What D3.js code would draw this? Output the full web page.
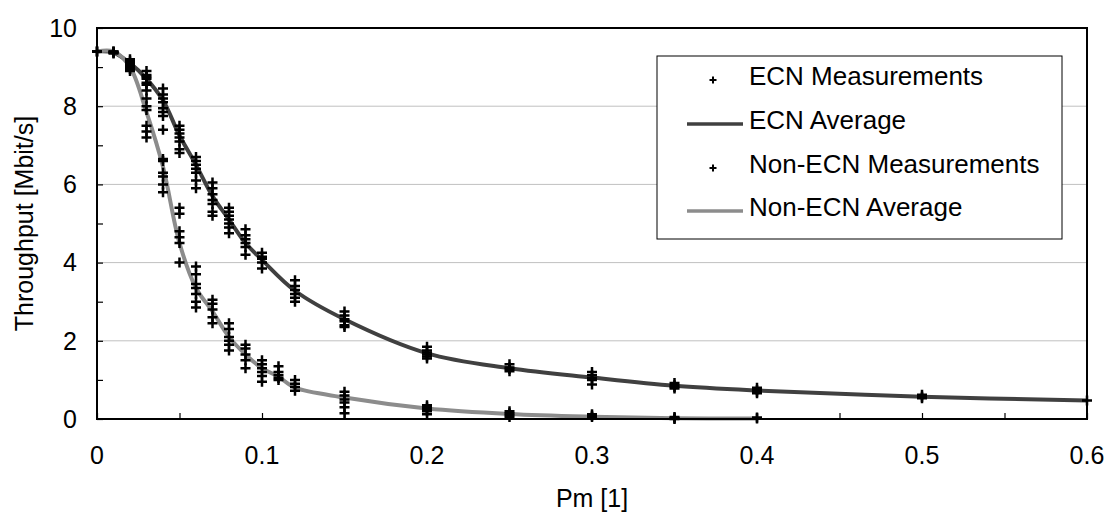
<!DOCTYPE html>
<html>
<head>
<meta charset="utf-8">
<script src="https://cdn.jsdelivr.net/npm/d3@7"></script>
<style>
  body { margin: 0; background: #fff; }
  text { font-family: "Liberation Sans", Arial, sans-serif; fill: #000; }
</style>
</head>
<body>
<div id="chart"></div>
<script>
// averages
var pmEcn = [0, 0.01, 0.02, 0.03, 0.04, 0.05, 0.06, 0.07, 0.08, 0.09, 0.1, 0.12, 0.15, 0.2, 0.25, 0.3, 0.35, 0.4, 0.5, 0.6];
var ecnAvg = [9.4, 9.37, 9.1, 8.7, 8.15, 7.25, 6.5, 5.7, 5.1, 4.5, 4.07, 3.28, 2.55, 1.68, 1.3, 1.06, 0.85, 0.73, 0.57, 0.47];
var pmNonEcn = [0, 0.01, 0.02, 0.03, 0.04, 0.05, 0.06, 0.07, 0.08, 0.09, 0.1, 0.11, 0.12, 0.15, 0.2, 0.25, 0.3, 0.35, 0.4];
var nonEcnAvg = [9.4, 9.4, 9.0, 7.85, 6.45, 4.5, 3.35, 2.75, 2.1, 1.65, 1.3, 1.08, 0.8, 0.55, 0.27, 0.13, 0.06, 0.02, 0.01];

// individual runs: [pm, [throughputs]]
var ecnMeas = [
  [0, [9.4, 9.4]],
  [0.01, [9.4, 9.38, 9.35]],
  [0.02, [9.2, 9.15, 9.1, 9.05, 9.0, 8.95]],
  [0.03, [8.9, 8.8, 8.75, 8.7, 8.6, 8.55]],
  [0.04, [8.45, 8.3, 8.2, 8.1, 7.95, 7.85, 7.75, 7.4]],
  [0.05, [7.5, 7.4, 7.3, 7.2, 7.1, 6.9, 6.8]],
  [0.06, [6.7, 6.6, 6.5, 6.4, 6.3, 6.1, 5.9]],
  [0.07, [6.05, 5.9, 5.75, 5.6, 5.5, 5.3, 5.2]],
  [0.08, [5.4, 5.3, 5.2, 5.1, 5.0, 4.9, 4.75]],
  [0.09, [4.85, 4.7, 4.6, 4.5, 4.4, 4.2]],
  [0.1, [4.25, 4.15, 4.1, 4.0, 3.85]],
  [0.12, [3.55, 3.4, 3.3, 3.2, 3.1, 3.0]],
  [0.15, [2.75, 2.65, 2.55, 2.5, 2.4, 2.35]],
  [0.2, [1.85, 1.75, 1.7, 1.65, 1.6, 1.55]],
  [0.25, [1.4, 1.32, 1.28, 1.22]],
  [0.3, [1.2, 1.12, 1.05, 1.0, 0.88]],
  [0.35, [0.92, 0.86, 0.82, 0.78]],
  [0.4, [0.8, 0.74, 0.7, 0.66]],
  [0.5, [0.62, 0.57, 0.53]],
  [0.6, [0.47]]
];
var nonEcnMeas = [
  [0, [9.4]],
  [0.01, [9.4, 9.37]],
  [0.02, [9.1, 9.0, 8.9]],
  [0.03, [8.4, 8.2, 8.0, 7.9, 7.5, 7.35, 7.2]],
  [0.04, [6.65, 6.6, 6.3, 6.2, 6.0, 5.8]],
  [0.05, [5.4, 5.25, 4.8, 4.65, 4.5, 4.0]],
  [0.06, [3.9, 3.7, 3.45, 3.35, 3.2, 3.0, 2.85]],
  [0.07, [3.05, 2.95, 2.8, 2.6, 2.45]],
  [0.08, [2.45, 2.3, 2.1, 2.0, 1.9, 1.75]],
  [0.09, [1.9, 1.8, 1.65, 1.5, 1.3]],
  [0.1, [1.5, 1.4, 1.3, 1.2, 1.1, 0.95]],
  [0.11, [1.35, 1.2, 1.12, 1.05, 1.0]],
  [0.12, [1.0, 0.9, 0.82, 0.72]],
  [0.15, [0.7, 0.6, 0.5, 0.42, 0.3, 0.15]],
  [0.2, [0.35, 0.3, 0.25, 0.2, 0.12]],
  [0.25, [0.2, 0.15, 0.1, 0.05]],
  [0.3, [0.12, 0.08, 0.05]],
  [0.35, [0.05, 0.02, 0.0]],
  [0.4, [0.04, 0.01]]
];

var xTicks = [0, 0.1, 0.2, 0.3, 0.4, 0.5, 0.6];
var yTicks = [0, 2, 4, 6, 8, 10];
var legendItems = ["ECN Measurements", "ECN Average", "Non-ECN Measurements", "Non-ECN Average"];

var width = 1107,
  height = 516;
var plotLeft = 97,
  plotRight = 1087,
  plotTop = 28,
  plotBottom = 419;
var fontSize = 25;
var darkLine = "#404040",
  lightLine = "#8c8c8c";

var svg = d3
  .select("#chart")
  .append("svg")
  .attr("width", width)
  .attr("height", height);

var x = d3.scaleLinear().domain([0, 0.6]).range([plotLeft, plotRight]);
var y = d3.scaleLinear().domain([0, 10]).range([plotBottom, plotTop]);

// grid lines
svg
  .append("g")
  .selectAll("line")
  .data(yTicks.filter((t) => t > 0 && t < 10))
  .enter()
  .append("line")
  .attr("x1", plotLeft)
  .attr("x2", plotRight)
  .attr("y1", (d) => y(d))
  .attr("y2", (d) => y(d))
  .attr("stroke", "#c0c0c0")
  .attr("stroke-width", 1);

// minor ticks, pointing inwards
var xAxis = svg
  .append("g")
  .attr("transform", "translate(0," + plotBottom + ")")
  .call(d3.axisBottom(x).ticks(12).tickSizeInner(-6).tickSizeOuter(0).tickFormat(""));
var yAxis = svg
  .append("g")
  .attr("transform", "translate(" + plotLeft + ",0)")
  .call(d3.axisLeft(y).ticks(10).tickSizeInner(-6).tickSizeOuter(0).tickFormat(""));
[xAxis, yAxis].forEach(function (a) {
  a.select(".domain").remove();
  a.selectAll(".tick line").attr("stroke", "#000").attr("stroke-width", 1.2);
});

// tick labels
svg
  .append("g")
  .selectAll("text")
  .data(xTicks)
  .enter()
  .append("text")
  .attr("x", (d) => x(d))
  .attr("y", plotBottom + 45)
  .attr("text-anchor", "middle")
  .style("font-size", fontSize + "px")
  .text((d) => d);

svg
  .append("g")
  .selectAll("text")
  .data(yTicks)
  .enter()
  .append("text")
  .attr("x", plotLeft - 20)
  .attr("y", (d) => y(d))
  .attr("dy", "0.35em")
  .attr("text-anchor", "end")
  .style("font-size", fontSize + "px")
  .text((d) => d);

// axis titles
svg
  .append("text")
  .attr("x", (plotLeft + plotRight) / 2)
  .attr("y", 507)
  .attr("text-anchor", "middle")
  .style("font-size", fontSize + "px")
  .text("Pm [1]");

svg
  .append("text")
  .attr("transform", "translate(33," + (plotTop + plotBottom) / 2 + ") rotate(-90)")
  .attr("text-anchor", "middle")
  .style("font-size", fontSize + "px")
  .text("Throughput [Mbit/s]");

// average curves (smoothed like the spreadsheet original)
var line = d3
  .line()
  .x((d) => x(d[0]))
  .y((d) => y(d[1]))
  .curve(d3.curveCatmullRom.alpha(0.5));

svg
  .append("path")
  .datum(d3.zip(pmEcn, ecnAvg))
  .attr("d", line)
  .attr("fill", "none")
  .attr("stroke", darkLine)
  .attr("stroke-width", 4);

svg
  .append("path")
  .datum(d3.zip(pmNonEcn, nonEcnAvg))
  .attr("d", line)
  .attr("fill", "none")
  .attr("stroke", lightLine)
  .attr("stroke-width", 4);

// plus markers
var plus = function (s) {
  return "M" + -s + ",0H" + s + "M0," + -s + "V" + s;
};

function flatten(meas) {
  var pts = [];
  meas.forEach(function (m) {
    m[1].forEach(function (v) {
      pts.push([m[0], v]);
    });
  });
  return pts;
}

[ecnMeas, nonEcnMeas].forEach(function (meas) {
  svg
    .append("g")
    .selectAll("path")
    .data(flatten(meas))
    .enter()
    .append("path")
    .attr("transform", (d) => "translate(" + x(d[0]) + "," + y(d[1]) + ")")
    .attr("d", plus(5))
    .attr("fill", "none")
    .attr("stroke", "#000")
    .attr("stroke-width", 2.5);
});

// plot frame
svg
  .append("rect")
  .attr("x", plotLeft)
  .attr("y", plotTop)
  .attr("width", plotRight - plotLeft)
  .attr("height", plotBottom - plotTop)
  .attr("fill", "none")
  .attr("stroke", "#000")
  .attr("stroke-width", 2);

// legend
var legend = svg.append("g");
legend
  .append("rect")
  .attr("x", 657)
  .attr("y", 56)
  .attr("width", 405)
  .attr("height", 183)
  .attr("fill", "#fff")
  .attr("stroke", "#000")
  .attr("stroke-width", 1);

var rowY = [80, 124, 168, 211];
legendItems.forEach(function (name, i) {
  var g = legend.append("g").attr("transform", "translate(0," + rowY[i] + ")");
  if (i % 2 === 0) {
    g.append("path")
      .attr("transform", "translate(713,0)")
      .attr("d", plus(3.5))
      .attr("fill", "none")
      .attr("stroke", "#000")
      .attr("stroke-width", 2);
  } else {
    g.append("line")
      .attr("x1", 687)
      .attr("x2", 743)
      .attr("stroke", i === 1 ? darkLine : lightLine)
      .attr("stroke-width", 3.5);
  }
  g.append("text")
    .attr("x", 749)
    .attr("y", 0)
    .attr("dy", "0.2em")
    .style("font-size", "26px")
    .text(name);
});
</script>
</body>
</html>
